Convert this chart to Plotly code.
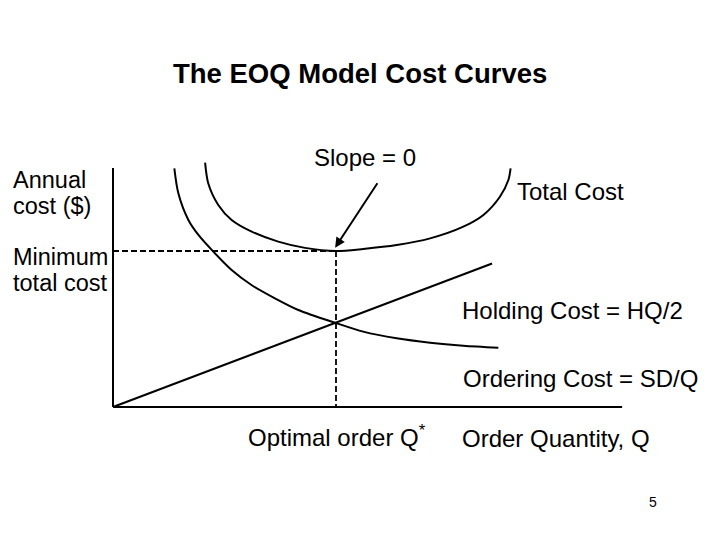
import plotly.graph_objects as go

# ---- data (Q in units where Q* = 100; cost in units where min total cost = 100) ----
q_star = 100
min_total = 100

ordering_q = [27.5, 29.3, 33.8, 38.3, 45.0, 53.2, 62.1, 72.6, 83.1, 100.0, 112.2, 127.2, 142.2, 157.1, 172.8]
ordering_cost = [153.0, 137.0, 119.9, 110.3, 99.6, 87.8, 78.2, 69.7, 62.2, 53.8, 48.3, 44.0, 41.2, 39.3, 38.0]

holding_q = [0, 170.0]
holding_cost = [0, 92.0]

total_q = [41.3, 42.7, 47.2, 53.2, 62.2, 74.1, 86.1, 100.0, 112.2, 127.2, 142.2, 157.1, 166.1, 173.5, 177.3, 178.3]
total_cost = [156.6, 143.4, 129.5, 119.9, 112.4, 106.0, 102.0, 100.0, 101.3, 103.8, 108.1, 115.6, 123.1, 134.8, 145.5, 153.0]

axis_q_max = 228.3
axis_cost_max = 153.2

arrow_head = (99.6, 102.1)
arrow_tail = (119.0, 144.4)

# ---- figure ----
PAGE_MARGIN = 8           # default body margin of the html page
W, H = 720 - 2 * PAGE_MARGIN, 540 - 2 * PAGE_MARGIN
px_per_q = 2.23
px_per_cost = 1.56
x0_px, y0_px = 113 - PAGE_MARGIN, 407 - PAGE_MARGIN

black = "#000000"
font_family = "Liberation Sans, Arial, sans-serif"

fig = go.Figure()

line_style = dict(color=black, width=2)

# axes
fig.add_trace(go.Scatter(x=[0, 0], y=[axis_cost_max, 0], mode="lines", line=line_style, hoverinfo="skip"))
fig.add_trace(go.Scatter(x=[0, axis_q_max], y=[0, 0], mode="lines", line=line_style, hoverinfo="skip"))

# dashed guides
dash_style = dict(color=black, width=1.8, dash="6px,3px")
fig.add_trace(go.Scatter(x=[0, q_star], y=[min_total, min_total], mode="lines", line=dash_style, hoverinfo="skip"))
fig.add_trace(go.Scatter(x=[q_star, q_star], y=[min_total, 0], mode="lines", line=dash_style, hoverinfo="skip"))

# curves
fig.add_trace(go.Scatter(x=ordering_q, y=ordering_cost, mode="lines",
                         line=dict(color=black, width=2, shape="spline", smoothing=0.8), name="Ordering"))
fig.add_trace(go.Scatter(x=holding_q, y=holding_cost, mode="lines", line=line_style, name="Holding"))
fig.add_trace(go.Scatter(x=total_q, y=total_cost, mode="lines",
                         line=dict(color=black, width=2, shape="spline", smoothing=0.8), name="Total"))


def txt(text, px, py, size=24, xanchor="left", bold=False):
    # px, py are positions in the 720x540 page
    return dict(
        text=f"<b>{text}</b>" if bold else text,
        x=(px - PAGE_MARGIN) / W, y=1 - (py - PAGE_MARGIN) / H, xref="paper", yref="paper",
        xanchor=xanchor, yanchor="middle", showarrow=False,
        font=dict(family=font_family, size=size, color=black),
    )


annotations = [
    txt("The EOQ Model Cost Curves", 360, 74, size=27.5, xanchor="center", bold=True),
    txt("Annual", 11, 180, size=23.5),
    txt("cost ($)", 11, 206, size=23.5),
    txt("Minimum", 11, 257, size=23.5),
    txt("total cost", 11, 283, size=23.5),
    txt("Slope = 0", 365, 157, xanchor="center"),
    txt("Total Cost", 515, 192),
    txt("Holding Cost = HQ/2", 460, 310),
    txt("Ordering Cost = SD/Q", 461, 378),
    txt("Optimal order Q<sup>*</sup>", 246, 436),
    txt("Order Quantity, Q", 460, 438),
    txt("5", 653, 502, size=14, xanchor="center"),
    dict(x=arrow_head[0], y=arrow_head[1], ax=arrow_tail[0], ay=arrow_tail[1],
         xref="x", yref="y", axref="x", ayref="y", text="", showarrow=True,
         arrowhead=2, arrowsize=1, arrowwidth=2, arrowcolor=black, standoff=0),
]

fig.update_layout(
    width=W, height=H,
    margin=dict(l=0, r=0, t=0, b=0, autoexpand=False),
    paper_bgcolor="white", plot_bgcolor="white",
    showlegend=False,
    xaxis=dict(range=[-x0_px / px_per_q, (W - x0_px) / px_per_q], visible=False, fixedrange=True),
    yaxis=dict(range=[(y0_px - H) / px_per_cost, y0_px / px_per_cost], visible=False, fixedrange=True),
    annotations=annotations,
)

fig.write_html("out.html")
